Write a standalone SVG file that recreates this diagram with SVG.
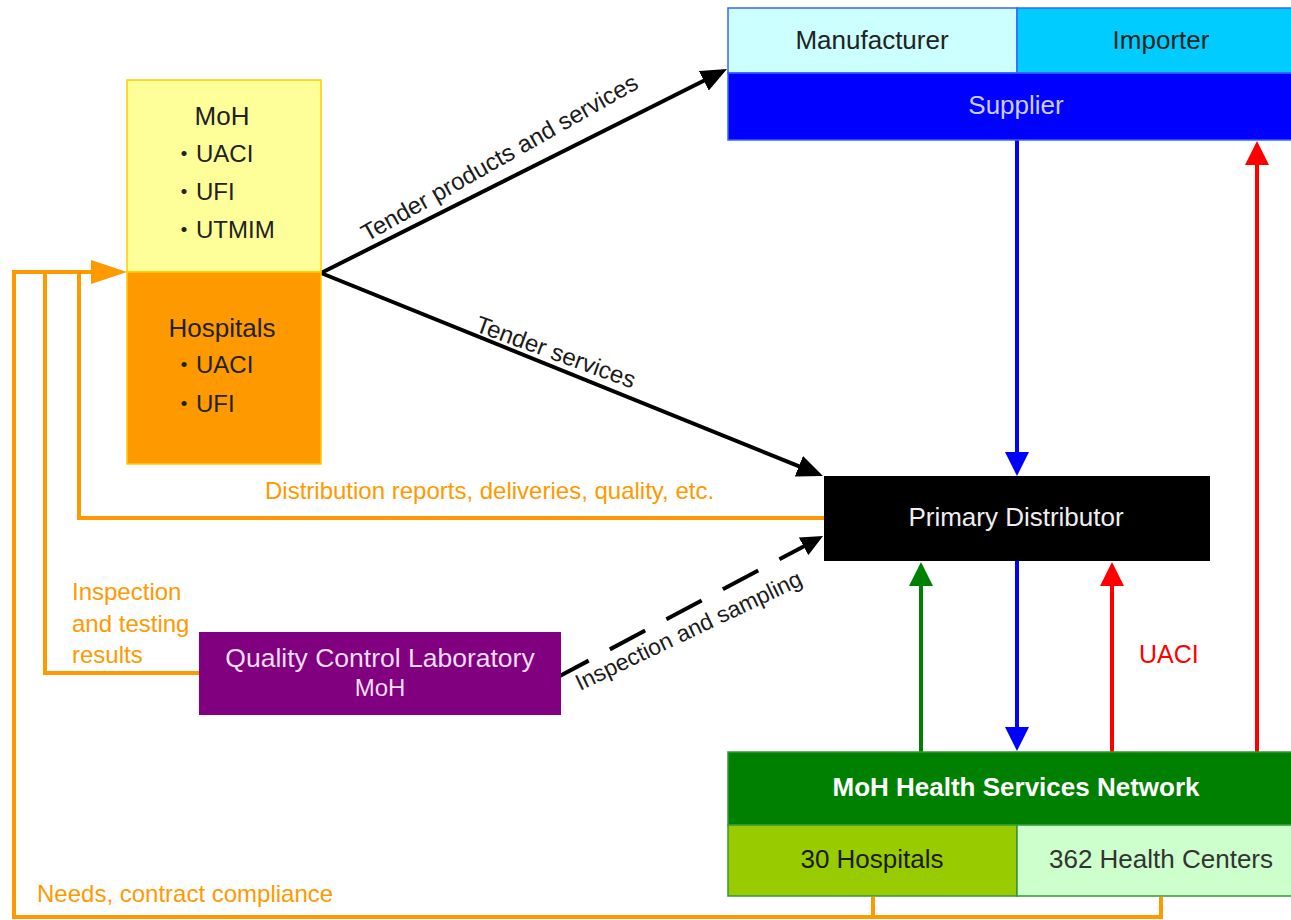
<svg xmlns="http://www.w3.org/2000/svg" width="1291" height="920" viewBox="0 0 1291 920">
<defs>
<style>
text{font-family:"Liberation Sans","Noto Sans CJK JP",Arial,sans-serif;}
.lbl{font-size:26px;text-anchor:middle;}
.bul{font-size:24px;fill:#222;}
.or{fill:#FF9900;font-size:24px;}
.blk{font-size:24px;fill:#1a1a1a;}
.oline{fill:none;stroke:#FF9900;stroke-width:4;}
.arr{fill:none;stroke-width:4;}
</style>
<marker id="ah-black" viewBox="0 0 26 22" refX="1" refY="11" markerWidth="26" markerHeight="22" markerUnits="userSpaceOnUse" orient="auto"><path d="M0,0 L26,11 L0,22 z" fill="#000"/></marker>
<marker id="ah-dash" viewBox="0 0 22 20" refX="1" refY="10" markerWidth="22" markerHeight="20" markerUnits="userSpaceOnUse" orient="auto"><path d="M0,0 L22,10 L0,20 z" fill="#000"/></marker>
<marker id="ah-blue" viewBox="0 0 24 24" refX="1" refY="12" markerWidth="24" markerHeight="24" markerUnits="userSpaceOnUse" orient="auto"><path d="M0,0 L24,12 L0,24 z" fill="#0000FF"/></marker>
<marker id="ah-green" viewBox="0 0 24 24" refX="1" refY="12" markerWidth="24" markerHeight="24" markerUnits="userSpaceOnUse" orient="auto"><path d="M0,0 L24,12 L0,24 z" fill="#008000"/></marker>
<marker id="ah-red" viewBox="0 0 24 24" refX="1" refY="12" markerWidth="24" markerHeight="24" markerUnits="userSpaceOnUse" orient="auto"><path d="M0,0 L24,12 L0,24 z" fill="#FF0000"/></marker>
<marker id="ah-orange" viewBox="0 0 36 24" refX="1" refY="12" markerWidth="36" markerHeight="24" markerUnits="userSpaceOnUse" orient="auto"><path d="M0,0 L36,12 L0,24 z" fill="#FF9900"/></marker>
</defs>
<rect x="0" y="0" width="1291" height="920" fill="#FFFFFF"/>

<g id="connectors">
  <!-- orange feedback lines -->
  <path class="oline" d="M1161,897 V917 H14 V272 H92" marker-end="url(#ah-orange)"/>
  <path class="oline" d="M873,897 V917"/>
  <path class="oline" d="M199,673 H45 V272"/>
  <path class="oline" d="M824,518 H79 V272"/>
  <!-- tender arrows -->
  <path class="arr" stroke="#000" d="M321,273 L704.7,80.3" marker-end="url(#ah-black)"/>
  <path class="arr" stroke="#000" d="M321,273 L799.8,466.6" marker-end="url(#ah-black)"/>
  <!-- dashed inspection arrow -->
  <path class="arr" stroke="#000" stroke-dasharray="40 24" stroke-dashoffset="3" d="M556,678 L804.5,545.9" marker-end="url(#ah-dash)"/>
  <!-- vertical arrows -->
  <path class="arr" stroke="#0000FF" d="M1017,140 V453" marker-end="url(#ah-blue)"/>
  <path class="arr" stroke="#0000FF" d="M1017,561 V728" marker-end="url(#ah-blue)"/>
  <path class="arr" stroke="#008000" d="M921,752 V585" marker-end="url(#ah-green)"/>
  <path class="arr" stroke="#FF0000" d="M1112,752 V585" marker-end="url(#ah-red)"/>
  <path class="arr" stroke="#FF0000" d="M1257,752 V164" marker-end="url(#ah-red)"/>
  <!-- connector labels -->
  <text class="blk" transform="translate(367,242) rotate(-29.5)">Tender products and services</text>
  <text class="blk" transform="translate(474,331) rotate(20)">Tender services</text>
  <text class="blk" style="font-size:23px" transform="translate(580,691) rotate(-25.5)">Inspection and sampling</text>
  <text class="or" x="265" y="499">Distribution reports, deliveries, quality, etc.</text>
  <text class="or" x="72" y="600">Inspection</text>
  <text class="or" x="72" y="632">and testing</text>
  <text class="or" x="72" y="663">results</text>
  <text class="or" x="37" y="902">Needs, contract compliance</text>
  <text x="1139" y="663" style="font-size:25px;fill:#FF0000">UACI</text>
</g>

<g id="moh">
  <rect x="127" y="80" width="194" height="192" fill="#FFFF99" stroke="#FFCC00" stroke-width="1.5"/>
  <text class="lbl" x="222" y="125" fill="#222">MoH</text>
  <text class="bul" x="172" y="162">・UACI</text>
  <text class="bul" x="172" y="200">・UFI</text>
  <text class="bul" x="172" y="238">・UTMIM</text>
</g>

<g id="hospitals">
  <rect x="127" y="272" width="194" height="192" fill="#FF9900" stroke="#FFCC00" stroke-width="1.5"/>
  <text class="lbl" x="222" y="337" fill="#222">Hospitals</text>
  <text class="bul" x="172" y="373">・UACI</text>
  <text class="bul" x="172" y="412">・UFI</text>
</g>

<g id="supplier">
  <rect x="728" y="8" width="289" height="65" fill="#CCFFFF" stroke="#3366FF" stroke-width="1.5"/>
  <rect x="1017" y="8" width="289" height="65" fill="#00CCFF" stroke="#3366FF" stroke-width="1.5"/>
  <rect x="728" y="73" width="578" height="67" fill="#0000FF" stroke="#3366FF" stroke-width="1.5"/>
  <text class="lbl" x="872" y="49" fill="#222">Manufacturer</text>
  <text class="lbl" x="1161" y="49" fill="#222">Importer</text>
  <text class="lbl" x="1016" y="114" fill="#CCCCFF">Supplier</text>
</g>

<g id="primary-distributor">
  <rect x="824" y="476" width="386" height="85" fill="#000000"/>
  <text class="lbl" x="1016" y="526" fill="#EEEEEE">Primary Distributor</text>
</g>

<g id="qc-lab">
  <rect x="199" y="632" width="362" height="83" fill="#800080"/>
  <text class="lbl" x="380" y="667" fill="#F0DDF0" style="font-size:26.5px">Quality Control Laboratory</text>
  <text class="lbl" x="380" y="696" fill="#F0DDF0" style="font-size:24px">MoH</text>
</g>

<g id="health-network">
  <rect x="728" y="752" width="578" height="73" fill="#008000" stroke="#339933" stroke-width="1.5"/>
  <rect x="728" y="825" width="289" height="71" fill="#99CC00" stroke="#339933" stroke-width="1.5"/>
  <rect x="1017" y="825" width="289" height="71" fill="#CCFFCC" stroke="#339933" stroke-width="1.5"/>
  <text class="lbl" x="1016" y="796" fill="#FFFFFF" font-weight="bold">MoH Health Services Network</text>
  <text class="lbl" x="872" y="868" fill="#1a1a1a">30 Hospitals</text>
  <text class="lbl" x="1161" y="868" fill="#333333">362 Health Centers</text>
</g>
</svg>
